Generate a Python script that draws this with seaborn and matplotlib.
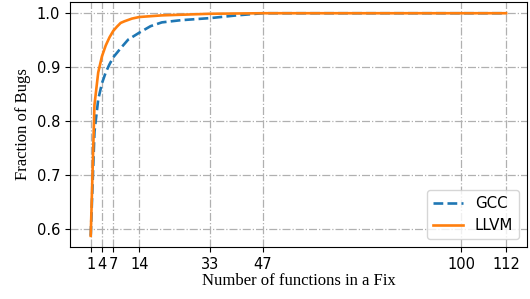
import numpy as np
import pandas as pd
import seaborn as sns
import matplotlib.pyplot as plt

# cumulative fraction of bugs by number of functions touched in a fix
gcc_x = [1, 2, 3, 4, 5, 6, 7, 9, 11, 14, 17, 20, 25, 33, 40, 47, 112]
gcc_y = [0.587, 0.78, 0.84, 0.87, 0.89, 0.905, 0.918, 0.935, 0.951, 0.964,
         0.976, 0.983, 0.987, 0.991, 0.996, 1.0, 1.0]

llvm_x = [1, 2, 3, 4, 5, 6, 7, 8, 9, 10, 12, 14, 20, 33, 47, 112]
llvm_y = [0.587, 0.83, 0.89, 0.92, 0.94, 0.955, 0.967, 0.975, 0.982, 0.985,
          0.99, 0.993, 0.996, 0.999, 1.0, 1.0]

xticks = [1, 4, 7, 14, 33, 47, 100, 112]
yticks = [0.6, 0.7, 0.8, 0.9, 1.0]

gcc_df = pd.DataFrame({'x': gcc_x, 'y': gcc_y})
llvm_df = pd.DataFrame({'x': llvm_x, 'y': llvm_y})

fig = plt.figure(figsize=(5.3, 2.99), dpi=100)
ax = fig.add_axes([0.132, 0.174, 0.862, 0.819])

sns.lineplot(data=gcc_df, x='x', y='y', ax=ax, color='#1f77b4',
             linestyle='--', linewidth=1.9, label='GCC')
sns.lineplot(data=llvm_df, x='x', y='y', ax=ax, color='#ff7f0e',
             linewidth=1.9, label='LLVM')

ax.set_xticks(xticks)
ax.set_yticks(yticks)
ax.tick_params(labelsize=10.5)
ax.grid(True, linestyle='-.', color='#b0b0b0', linewidth=0.9)

ax.set_xlabel('Number of functions in a Fix', family='Liberation Serif', fontsize=12, labelpad=1)
ax.set_ylabel('Fraction of Bugs', family='Liberation Serif', fontsize=12)
ax.legend(loc='lower right', fontsize=10.8)

fig.savefig('out.png', dpi=100)
